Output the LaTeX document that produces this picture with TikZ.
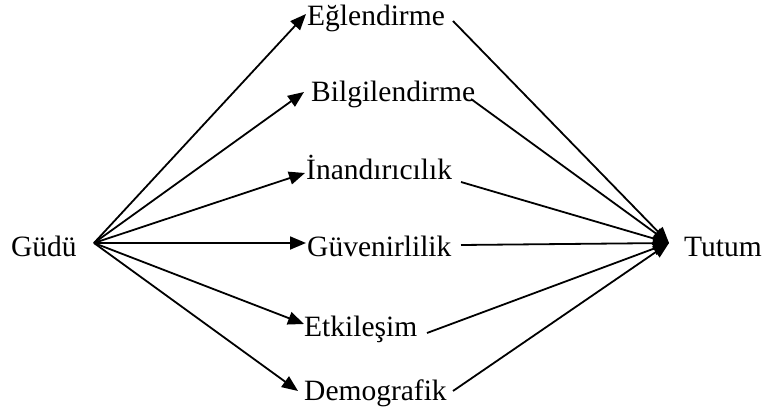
\documentclass[tikz,border=0pt]{standalone}
\usepackage{fontspec}
\setmainfont{Liberation Serif}
\usetikzlibrary{arrows.meta}
\begin{document}
\begin{tikzpicture}[x=1pt,y=-1pt,
  lbl/.style={font=\fontsize{29.5}{34}\selectfont, inner sep=0pt, anchor=base west, text=black},
  arr/.style={line width=1.8pt, -{Triangle[length=16pt,width=13pt]}},
  ln/.style={line width=1.8pt}]
\useasboundingbox (0,0) rectangle (768,414);
% labels
\node[lbl] (gudu) at (11,256) {Güdü};
\node[lbl] (eg) at (307,26) {Eğlendirme};
\node[lbl] (bi) at (311,102) {Bilgilendirme};
\node[lbl] (in) at (306,180) {İnandırıcılık};
\node[lbl] (gu) at (307,256) {Güvenirlilik};
\node[lbl] (et) at (304,336) {Etkileşim};
\node[lbl] (de) at (304,400) {Demografik};
\node[lbl] (tutum) at (684,256) {Tutum};
% connector ends
\coordinate (g) at (94,243);
\coordinate (t) at (669,243);
\coordinate (eg-in) at (306,14);
\coordinate (bi-in) at (304,92);
\coordinate (in-in) at (305,173);
\coordinate (gu-in) at (306,243);
\coordinate (et-in) at (304,324);
\coordinate (de-in) at (298,391);
\coordinate (eg-out) at (453,21);
\coordinate (bi-out) at (471,99);
\coordinate (in-out) at (461,182);
\coordinate (gu-out) at (461,245);
\coordinate (et-out) at (427,333);
\coordinate (de-out) at (453,391);
% arrows from Güdü
\foreach \n in {eg,bi,in,gu,et,de} \draw[arr] (g) -- (\n-in);
% arrows to Tutum
\foreach \n in {eg,bi,in,gu,et,de} \draw[arr] (\n-out) -- (t);
\end{tikzpicture}
\end{document}
